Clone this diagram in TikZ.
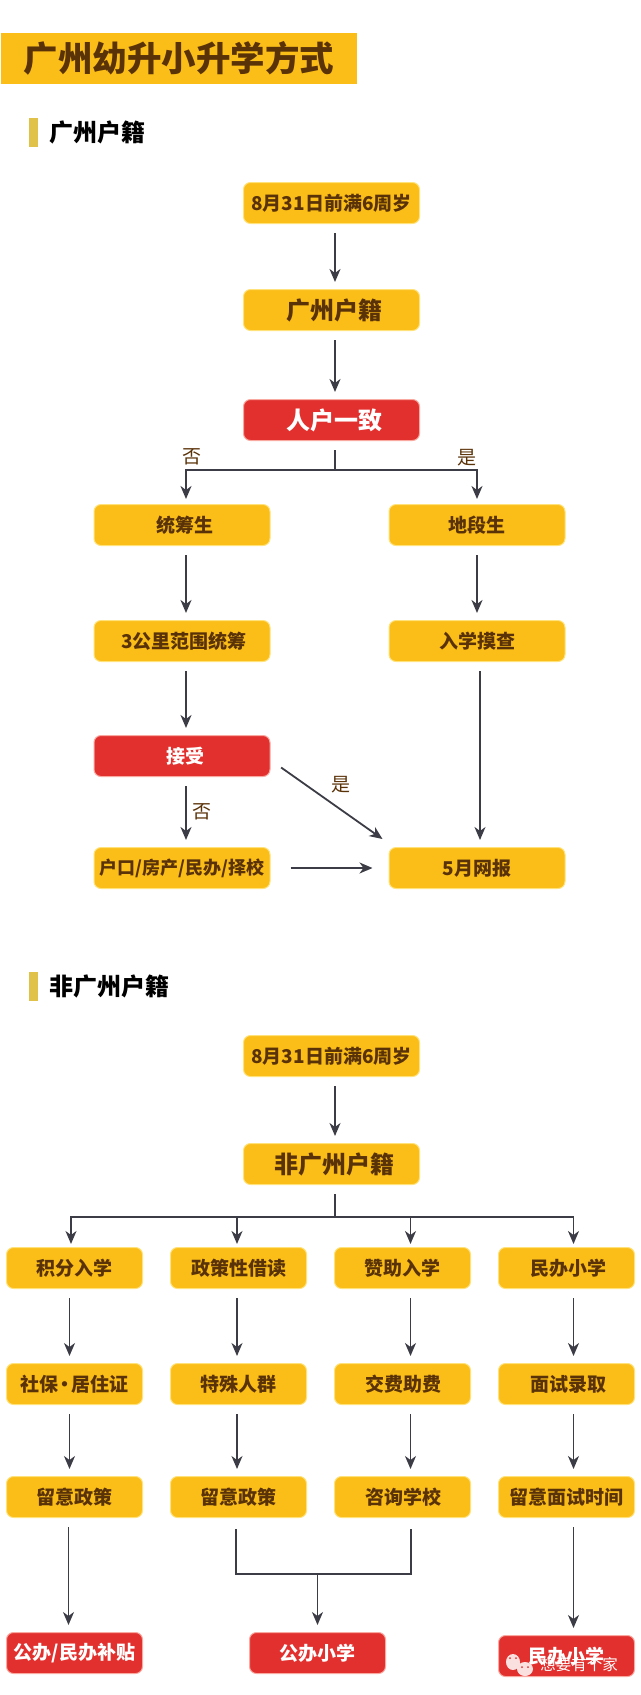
\documentclass[tikz,border=0pt]{standalone}
\usepackage{fontspec}
\setmainfont{Noto Sans CJK SC}[BoldFont=* Black]
\usepackage{tikz}
\usetikzlibrary{arrows.meta}
\definecolor{boxyellow}{HTML}{FBBD17}
\definecolor{glowyellow}{HTML}{FFE27A}
\definecolor{boxred}{HTML}{E2302E}
\definecolor{glowred}{HTML}{F9A9A0}
\definecolor{boxbrown}{HTML}{5A3208}
\definecolor{linegray}{HTML}{3C3C46}
\definecolor{barkhaki}{HTML}{E0C24A}

\begin{document}
\begin{tikzpicture}[x=1pt,y=1pt,->,>={Stealth[length=13pt,width=11pt,inset=4pt]},shorten >=7pt,shorten <=9pt,
  line width=1.8pt,draw=linegray,
  box node/.style={rectangle,rounded corners=7pt,inner sep=0pt,line width=1pt,
    minimum height=41pt,font=\fontsize{19}{19}\selectfont\bfseries},
  yellow node/.style={box node,fill=boxyellow,draw=glowyellow,text=boxbrown,minimum width=176pt},
  big node/.style={yellow node,font=\fontsize{24}{24}\selectfont\bfseries},
  red node/.style={box node,fill=boxred,draw=glowred,text=white,minimum width=176pt},
  small yellow/.style={yellow node,minimum width=136pt},
  small red/.style={red node,minimum width=136pt},
  section node/.style={anchor=west,inner sep=0pt,text=black,font=\fontsize{24}{24}\selectfont\bfseries},
  bar node/.style={rectangle,fill=barkhaki,inner sep=0pt,minimum width=9pt,minimum height=29pt},
  label node/.style={inner sep=0pt,text=boxbrown,font=\fontsize{19}{19}\selectfont}]

  \useasboundingbox (0,0) rectangle (640,-1695);

  % title
  \node[rectangle,fill=boxyellow,inner sep=0pt,anchor=west,minimum width=356pt,minimum height=51pt,
    text=boxbrown,font=\fontsize{34.5}{34.5}\selectfont\bfseries] (title) at (0,-58) {广州幼升小升学方式};

  % first part
  \node[bar node] (bar1) at (33.5,-132) {};
  \node[section node] (sec1) at (49,-132) {广州户籍};

  \node[yellow node] (a1) at (331.5,-203) {8月31日前满6周岁};
  \node[big node] (a2) [below of=a1,node distance=107pt] {\hspace*{6pt}广州户籍};
  \node[red node,font=\fontsize{24}{24}\selectfont\bfseries] (a3) [below of=a2,node distance=110pt] {\hspace*{6pt}人户一致};
  \node[yellow node] (b1) at (182,-525) {\hspace*{6pt}统筹生};
  \node[yellow node] (c1) at (477,-525) {地段生};
  \node[yellow node] (b2) [below of=b1,node distance=116pt] {\hspace*{4pt}3公里范围统筹};
  \node[yellow node] (c2) [below of=c1,node distance=116pt] {入学摸查};
  \node[red node] (b3) [below of=b2,node distance=115pt] {\hspace*{6pt}接受};
  \node[yellow node,font=\fontsize{18}{18}\selectfont\bfseries] (b4) [below of=b3,node distance=112pt] {户口/房产/民办/择校};
  \node[yellow node] (c3) [below of=c2,node distance=227pt] {5月网报};
  \coordinate (fork1) at (335,-470);

  \node[label node] (no1) at (192,-457) {否};
  \node[label node] (yes1) at (467,-458) {是};
  \node[label node] (no2) at (202,-812) {否};
  \node[label node] (yes2) at (341,-785) {是};

  \path
    ([xshift=3.5pt]a1.south) edge ([xshift=3.5pt]a2.north)
    ([xshift=3.5pt]a2.south) edge ([xshift=3.5pt]a3.north)
    ([xshift=3.5pt]a3.south) edge[-,shorten >=0pt] (fork1)
    ([xshift=4pt]b1.south) edge ([xshift=4pt]b2.north)
    ([xshift=4pt]b2.south) edge ([xshift=4pt]b3.north)
    ([xshift=4pt]b3.south) edge ([xshift=4pt]b4.north)
    (c1.south) edge (c2.north)
    ([xshift=3pt]c2.south) edge ([xshift=3pt]c3.north)
    (b4.east) edge[shorten <=20pt,shorten >=16pt] (c3.west)
    ([yshift=-4pt]b3.east) edge[shorten <=13pt,shorten >=0pt] ([xshift=-6pt,yshift=8pt]c3.north west)
    ;
  \draw[shorten <=0pt,shorten >=5pt] (fork1) -| ([xshift=4pt]b1.north);
  \draw[shorten <=0pt,shorten >=5pt] (fork1) -| (c1.north);

  % second part
  \node[bar node] (bar2) at (33.5,-986) {};
  \node[section node] (sec2) at (49,-986) {非广州户籍};

  \node[yellow node] (d1) at (331.5,-1056) {8月31日前满6周岁};
  \node[big node] (d2) [below of=d1,node distance=108pt] {\hspace*{6pt}非广州户籍};
  \coordinate (fork2) at (335,-1217);

  \node[small yellow] (e1) at (74.5,-1268) {积分入学};
  \node[small yellow] (e2) [right of=e1,node distance=164pt] {政策性借读};
  \node[small yellow] (e3) [right of=e2,node distance=164pt] {赞助入学};
  \node[small yellow] (e4) [right of=e3,node distance=164pt] {\hspace*{4pt}民办小学};

  \node[small yellow] (f1) [below of=e1,node distance=116pt] {社保\kern-3pt•\kern-3pt居住证};
  \node[small yellow] (f2) [below of=e2,node distance=116pt] {特殊人群};
  \node[small yellow] (f3) [below of=e3,node distance=116pt] {\hspace*{2pt}交费助费};
  \node[small yellow] (f4) [below of=e4,node distance=116pt] {\hspace*{4pt}面试录取};

  \node[small yellow] (g1) [below of=f1,node distance=113pt] {留意政策};
  \node[small yellow] (g2) [below of=f2,node distance=113pt] {留意政策};
  \node[small yellow] (g3) [below of=f3,node distance=113pt] {\hspace*{2pt}咨询学校};
  \node[small yellow] (g4) [below of=f4,node distance=113pt] {留意面试时间};

  \node[small red] (h1) [below of=g1,node distance=156pt] {公办/民办补贴};
  \node[small red] (h2) at (317.5,-1653) {公办小学};
  \node[small red] (h4) [below of=g4,node distance=159pt] {民办小学};
  \coordinate (merge) at (317.5,-1574);

  \path
    ([xshift=3.5pt]d1.south) edge ([xshift=3.5pt]d2.north)
    ([xshift=3.5pt]d2.south) edge[-,shorten >=0pt] (fork2)
    ([xshift=-5pt]e1.south) edge ([xshift=-5pt]f1.north)
    ([xshift=-1.5pt]e2.south) edge ([xshift=-1.5pt]f2.north)
    ([xshift=8pt]e3.south) edge ([xshift=8pt]f3.north)
    ([xshift=7pt]e4.south) edge ([xshift=7pt]f4.north)
    ([xshift=-5pt]f1.south) edge ([xshift=-5pt]g1.north)
    ([xshift=-1.5pt]f2.south) edge ([xshift=-1.5pt]g2.north)
    ([xshift=8pt]f3.south) edge ([xshift=8pt]g3.north)
    ([xshift=7pt]f4.south) edge ([xshift=7pt]g4.north)
    ([xshift=-6pt]g1.south) edge ([xshift=-6pt]h1.north)
    ([xshift=7pt]g4.south) edge ([xshift=7pt]h4.north)
    (merge) edge[shorten <=0pt] (h2.north)
    ;
  \draw[shorten <=0pt,shorten >=3pt] (fork2) -| ([xshift=-3.5pt]e1.north);
  \draw[shorten <=0pt,shorten >=3pt] (fork2) -| ([xshift=-1.5pt]e2.north);
  \draw[shorten <=0pt,shorten >=3pt] (fork2) -| ([xshift=8pt]e3.north);
  \draw[shorten <=0pt,shorten >=3pt] (fork2) -| ([xshift=7pt]e4.north);
  \draw[-,shorten >=11pt,shorten <=11pt] ([xshift=-2.5pt]g2.south) |- (merge) -| ([xshift=8.5pt]g3.south);

  % watermark
  \fill[fill=white!85!boxred,draw=none] (513,-1662) ellipse (7pt and 8pt) (525,-1669) ellipse (8pt and 7pt);
  \fill[fill=boxred,draw=none] (510,-1658) circle (1pt) (516,-1658) circle (1pt) (522,-1667) circle (1pt) (528,-1667) circle (1pt);
  \node[inner sep=0pt,text=white,font=\fontsize{15.5}{15.5}\selectfont] (mark) at (579,-1665) {想要有个家};
\end{tikzpicture}
\end{document}
